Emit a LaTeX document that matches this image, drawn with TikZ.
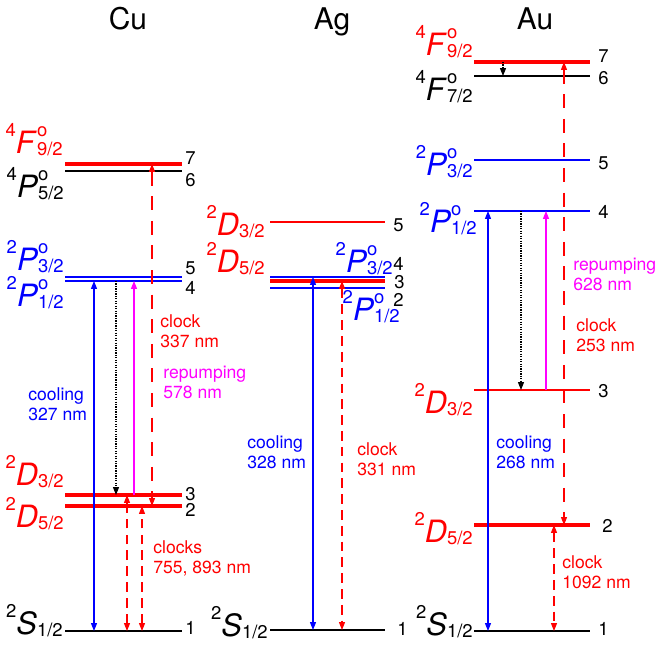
\documentclass[tikz,border=0pt]{standalone}
\usepackage{fontspec}
\setmainfont{TeX Gyre Heros}
\usetikzlibrary{arrows.meta}

\definecolor{pumpmag}{RGB}{255,0,255}
\newcommand{\supsz}{\fontsize{10.5}{11}\selectfont}
\newcommand{\trm}[4]{\raisebox{9.5pt}{\supsz #1}\textit{#2}\rlap{\raisebox{9.5pt}{\supsz #3}}\raisebox{-1.5pt}{\supsz #4}}

\tikzset{
  lvlthin/.style={line width=0.7pt},
  lvlred/.style={red, line width=2pt},
  lvlblue/.style={blue, line width=1pt},
  trans/.style={line width=0.6pt, {Triangle[length=4.5pt,width=3.4pt]}-{Triangle[length=4.5pt,width=3.4pt]}},
  coolarr/.style={trans, blue},
  clockarr/.style={trans, red, dash pattern=on 8pt off 6pt},
  clockshort/.style={trans, red, dash pattern=on 5.5pt off 3.5pt},
  pumparr/.style={pumpmag, line width=0.6pt, -{Triangle[length=4.5pt,width=3.4pt]}},
  decayarr/.style={line width=0.6pt, dash pattern=on 0.7pt off 0.7pt, -{Triangle[length=4.5pt,width=3.4pt]}},
  term/.style={anchor=base east, inner sep=0pt, font=\fontsize{17.5}{20}\selectfont},
  num/.style={anchor=west, inner sep=0pt, font=\fontsize{10.5}{12}\selectfont},
  lbl/.style={anchor=base west, inner sep=0pt, align=left, font=\fontsize{10}{11.3}\selectfont},
  title/.style={anchor=base, inner sep=0pt, font=\fontsize{17}{20}\selectfont}
}

\begin{document}
\begin{tikzpicture}[x=0.02cm, y=-0.02cm]
  \useasboundingbox (0,0) rectangle (657,647);

  \node[title] (cuT) at (128,29) {Cu};
  \node[title] (agT) at (332,29) {Ag};
  \node[title] (auT) at (535,29) {Au};

  % Cu
  \coordinate (cu1) at (65,631);
  \coordinate (cu2) at (65,506);
  \coordinate (cu3) at (65,495);
  \coordinate (cu4) at (65,281);
  \coordinate (cu5) at (65,277);
  \coordinate (cu6) at (65,171);
  \coordinate (cu7) at (65,164);
  \draw[lvlthin] (cu1) -- ++(117,0);
  \draw[lvlred] (cu2) -- ++(117,0);
  \draw[lvlred] (cu3) -- ++(117,0);
  \draw[lvlblue] (cu4) -- ++(117,0);
  \draw[lvlblue] (cu5) -- ++(117,0);
  \draw[lvlthin] (cu6) -- ++(117,0);
  \draw[lvlred] (cu7) -- ++(117,0);

  \node[term, red] (cuF92) at (63,153) {\trm{4}{F}{o}{9/2}};
  \node[term] (cuP52) at (64,197) {\trm{4}{P}{o}{5/2}};
  \node[term, blue] (cuP32) at (64,270) {\trm{2}{P}{o}{3/2}};
  \node[term, blue] (cuP12) at (64,306) {\trm{2}{P}{o}{1/2}};
  \node[term, red] (cuD32) at (64,485) {\trm{2}{D}{}{3/2}};
  \node[term, red] (cuD52) at (64,527) {\trm{2}{D}{}{5/2}};
  \node[term] (cuS) at (63,634) {\trm{2}{S}{}{1/2}};

  \node[num] (cun7) at (185,158) {7};
  \node[num] (cun6) at (185,180) {6};
  \node[num] (cun5) at (185,268) {5};
  \node[num] (cun4) at (185,288) {4};
  \node[num] (cun3) at (185,494) {3};
  \node[num] (cun2) at (185,510) {2};
  \node[num] (cun1) at (185,628) {1};

  \draw[coolarr] (94,0 |- cu4) -- (94,0 |- cu1);
  \draw[decayarr] (116,0 |- cu4) -- (116,0 |- cu3);
  \draw[pumparr] (134,0 |- cu3) -- (134,0 |- cu4);
  \draw[clockarr] (152,0 |- cu7) -- (152,0 |- cu2);
  \draw[clockshort] (127,0 |- cu1) -- (127,0 |- cu3);
  \draw[clockshort] (142,0 |- cu1) -- (142,0 |- cu2);

  % labels sit on the baseline of their second line
  \node[lbl, blue] (cucool) at (28,420) {cooling\\327 nm};
  \node[lbl, red] (cuclk) at (160,347) {clock\\337 nm};
  \node[lbl, pumpmag] (cupump) at (163,398) {repumping\\578 nm};
  \node[lbl, red] (cuclks) at (153,573) {clocks\\755, 893 nm};

  % Ag
  \coordinate (ag1) at (270,630);
  \coordinate (ag2) at (270,288);
  \coordinate (ag3) at (270,281);
  \coordinate (ag4) at (270,277);
  \coordinate (ag5) at (270,222);
  \draw[lvlthin] (ag1) -- ++(115,0);
  \draw[lvlblue] (ag2) -- ++(115,0);
  \draw[lvlred] (ag3) -- ++(115,0);
  \draw[lvlblue] (ag4) -- ++(115,0);
  \draw[red, lvlthin] (ag5) -- ++(115,0);

  \node[term, red] (agD32) at (265,235) {\trm{2}{D}{}{3/2}};
  \node[term, red] (agD52) at (265,272) {\trm{2}{D}{}{5/2}};
  \node[term, blue] (agP32) at (393,272) {\trm{2}{P}{o}{3/2}};
  \node[term, blue] (agP12) at (400,320) {\trm{2}{P}{o}{1/2}};
  \node[term] (agS) at (268,636) {\trm{2}{S}{}{1/2}};

  \node[num] (agn5) at (393,225) {5};
  \node[num] (agn4) at (393,264) {4};
  \node[num] (agn3) at (394,282) {3};
  \node[num] (agn2) at (393,300) {2};
  \node[num] (agn1) at (397,629) {1};

  \draw[coolarr] (313,0 |- ag4) -- (313,0 |- ag1);
  \draw[clockshort] (342,0 |- ag3) -- (342,0 |- ag1);

  \node[lbl, blue] (agcool) at (247,468) {cooling\\328 nm};
  \node[lbl, red] (agclk) at (357,475) {clock\\331 nm};

  % Au
  \coordinate (au1) at (474,631);
  \coordinate (au2) at (474,525);
  \coordinate (au3) at (474,390);
  \coordinate (au4) at (474,211);
  \coordinate (au5) at (474,160);
  \coordinate (au6) at (474,76);
  \coordinate (au7) at (474,62);
  \draw[lvlthin] (au1) -- ++(116,0);
  \draw[lvlred] (au2) -- ++(116,0);
  \draw[red, lvlthin] (au3) -- ++(116,0);
  \draw[blue, lvlthin] (au4) -- ++(116,0);
  \draw[blue, lvlthin] (au5) -- ++(116,0);
  \draw[lvlthin] (au6) -- ++(116,0);
  \draw[lvlred] (au7) -- ++(116,0);

  \node[term, red] (auF92) at (473,55) {\trm{4}{F}{o}{9/2}};
  \node[term] (auF72) at (473,100) {\trm{4}{F}{o}{7/2}};
  \node[term, blue] (auP32) at (473,175) {\trm{2}{P}{o}{3/2}};
  \node[term, blue] (auP12) at (477,232) {\trm{2}{P}{o}{1/2}};
  \node[term, red] (auD32) at (473,413) {\trm{2}{D}{}{3/2}};
  \node[term, red] (auD52) at (473,542) {\trm{2}{D}{}{5/2}};
  \node[term] (auS) at (473,635) {\trm{2}{S}{}{1/2}};

  \node[num] (aun7) at (598,56) {7};
  \node[num] (aun6) at (598,78) {6};
  \node[num] (aun5) at (598,163) {5};
  \node[num] (aun4) at (598,212) {4};
  \node[num] (aun3) at (598,391) {3};
  \node[num] (aun2) at (602,526) {2};
  \node[num] (aun1) at (598,629) {1};

  \draw[decayarr] (503,0 |- au7) -- (503,0 |- au6);
  \draw[clockarr] (564,0 |- au7) -- (564,0 |- au2);
  \draw[coolarr] (488,0 |- au4) -- (488,0 |- au1);
  \draw[decayarr] (521,0 |- au4) -- (521,0 |- au3);
  \draw[pumparr] (546,0 |- au3) -- (546,0 |- au4);
  \draw[clockshort] (554,0 |- au2) -- (554,0 |- au1);

  \node[lbl, pumpmag] (aupump) at (573,290) {repumping\\628 nm};
  \node[lbl, red] (auclk) at (576,351) {clock\\253 nm};
  \node[lbl, blue] (aucool) at (496,468) {cooling\\268 nm};
  \node[lbl, red] (auclk2) at (562,588) {clock\\1092 nm};
\end{tikzpicture}
\end{document}
